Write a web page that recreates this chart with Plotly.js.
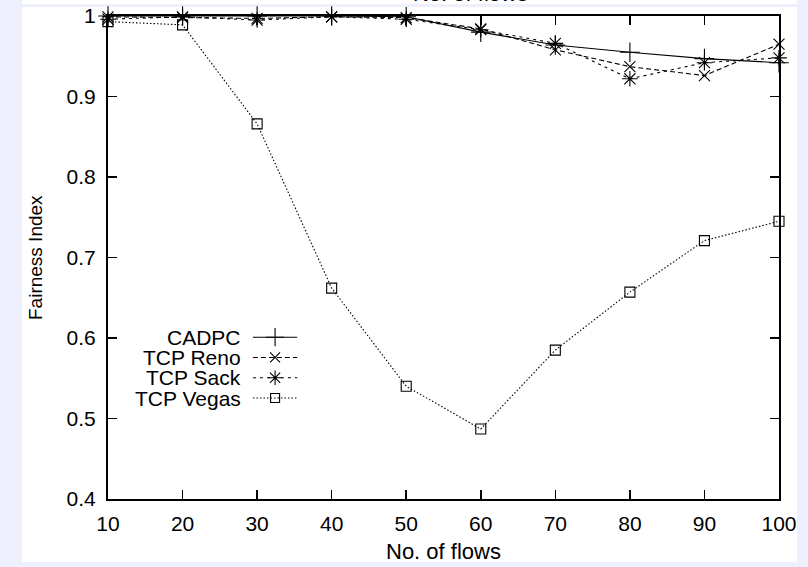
<!DOCTYPE html>
<html>
<head>
<meta charset="utf-8">
<script src="https://cdn.plot.ly/plotly-3.0.1.min.js"></script>
<style>
  html, body { margin: 0; padding: 0; background: #eef1fd; }
  #chart { width: 808px; height: 567px; }
</style>
</head>
<body>
<div id="chart"></div>
<script>
// Fairness index versus number of flows
const flows = [10, 20, 30, 40, 50, 60, 70, 80, 90, 100];
const cadpc = [1.000, 1.000, 1.000, 1.000, 0.999, 0.980, 0.964, 0.955, 0.947, 0.942];
const tcpReno = [0.999, 0.998, 0.997, 0.999, 0.998, 0.984, 0.958, 0.937, 0.926, 0.965];
const tcpSack = [0.996, 0.999, 0.995, 0.999, 0.996, 0.983, 0.966, 0.922, 0.942, 0.948];
const tcpVegas = [0.993, 0.989, 0.866, 0.662, 0.540, 0.487, 0.585, 0.657, 0.721, 0.745];

const seriesNames = ['CADPC', 'TCP Reno', 'TCP Sack', 'TCP Vegas'];
const seriesValues = [cadpc, tcpReno, tcpSack, tcpVegas];

const xTicks = [10, 20, 30, 40, 50, 60, 70, 80, 90, 100];
const yTicks = [0.4, 0.5, 0.6, 0.7, 0.8, 0.9, 1];
const yTickText = ['0.4', '0.5', '0.6', '0.7', '0.8', '0.9', '1'];

// gnuplot-like line types
const styles = [
  { dash: 'solid',     symbol: 'cross-thin',  size: 14 },
  { dash: '5px,3px',   symbol: 'x-thin',      size: 11 },
  { dash: '3px,4px',   symbol: 'asterisk',    size: 13 },
  { dash: '1.5px,2px', symbol: 'square-open', size: 10 }
];

const FONT = 'Liberation Sans, Arial, Helvetica, sans-serif';
const INK = '#000000';
const BG = '#eef1fd';

const traces = seriesValues.map((vals, i) => ({
  type: 'scatter',
  mode: 'lines+markers',
  name: seriesNames[i],
  x: flows,
  y: vals,
  cliponaxis: false,
  showlegend: false,
  line: { color: INK, width: 1.1, dash: styles[i].dash },
  marker: {
    symbol: styles[i].symbol,
    size: styles[i].size,
    color: INK,
    line: { color: INK, width: 1.1 }
  },
  hoverinfo: 'x+y+name'
}));

// Key: label on the left, line sample with its point on the right
const keyTextX = 0.201;
const keySample = [0.216, 0.282];
const keyTopY = 0.335;
const keyStep = 0.042;

const annotations = [];
seriesNames.forEach((name, i) => {
  const ky = keyTopY - i * keyStep;
  traces.push({
    type: 'scatter', mode: 'lines', xaxis: 'x2', yaxis: 'y2',
    x: keySample, y: [ky, ky], showlegend: false, hoverinfo: 'skip',
    line: { color: INK, width: 1.1, dash: styles[i].dash }
  });
  traces.push({
    type: 'scatter', mode: 'markers', xaxis: 'x2', yaxis: 'y2',
    x: [(keySample[0] + keySample[1]) / 2], y: [ky], showlegend: false, hoverinfo: 'skip',
    marker: { symbol: styles[i].symbol, size: styles[i].size - 1, color: INK, line: { color: INK, width: 1.1 } }
  });
  annotations.push({
    xref: 'paper', yref: 'paper', x: keyTextX, y: ky,
    xanchor: 'right', yanchor: 'middle', showarrow: false,
    text: name, font: { family: FONT, size: 21, color: INK }
  });
});

// axis titles
annotations.push({
  xref: 'paper', yref: 'paper', x: -0.1088, y: 0.501, textangle: -90,
  xanchor: 'center', yanchor: 'middle', showarrow: false,
  text: 'Fairness Index', font: { family: FONT, size: 19, color: INK }
});
annotations.push({
  xref: 'paper', yref: 'paper', x: 0.5, y: -0.1097,
  xanchor: 'center', yanchor: 'middle', showarrow: false,
  text: 'No. of flows', font: { family: FONT, size: 22, color: INK }
});
// caption of the panel above, cut by the frame
annotations.push({
  xref: 'paper', yref: 'paper', x: 0.5395, y: 1.0166,
  xanchor: 'center', yanchor: 'bottom', showarrow: false,
  text: 'No. of flows', font: { family: FONT, size: 22, color: INK }
});

const axisCommon = {
  showline: true, linecolor: INK, linewidth: 2, mirror: 'ticks',
  ticks: 'inside', ticklen: 9, tickwidth: 1.5, tickcolor: INK,
  showgrid: false, zeroline: false,
  tickfont: { family: FONT, size: 21, color: INK }
};

const layout = {
  width: 808, height: 567, autosize: false,
  margin: { l: 108, r: 29, t: 16, b: 68, pad: 0 },
  paper_bgcolor: BG,
  plot_bgcolor: 'rgba(0,0,0,0)',
  showlegend: false,
  xaxis: Object.assign({}, axisCommon, {
    range: [10, 100], tickvals: xTicks, ticktext: xTicks.map(String),
    ticklabelstandoff: 5
  }),
  yaxis: Object.assign({}, axisCommon, {
    range: [0.4, 1], tickvals: yTicks, ticktext: yTickText,
    ticklabelstandoff: 6
  }),
  xaxis2: { overlaying: 'x', range: [0, 1], visible: false, fixedrange: true },
  yaxis2: { overlaying: 'y', range: [0, 1], visible: false, fixedrange: true },
  annotations: annotations,
  shapes: [
    // white figure panel
    { type: 'rect', xref: 'paper', yref: 'paper', layer: 'below',
      x0: -0.1282, x1: 1.0268, y0: -0.1304, y1: 1.0186,
      fillcolor: '#ffffff', line: { width: 0 } },
    // strip of the panel above
    { type: 'rect', xref: 'paper', yref: 'paper', layer: 'below',
      x0: -0.1282, x1: 1.0268, y0: 1.0248, y1: 1.06,
      fillcolor: '#ffffff', line: { width: 0 } },
    // right margin beyond the panel edge
    { type: 'rect', xref: 'paper', yref: 'paper', layer: 'above',
      x0: 1.0268, x1: 1.08, y0: -0.2, y1: 1.1,
      fillcolor: BG, line: { width: 0 } }
  ]
};

Plotly.newPlot('chart', traces, layout, { displayModeBar: false, staticPlot: true });
</script>
</body>
</html>
